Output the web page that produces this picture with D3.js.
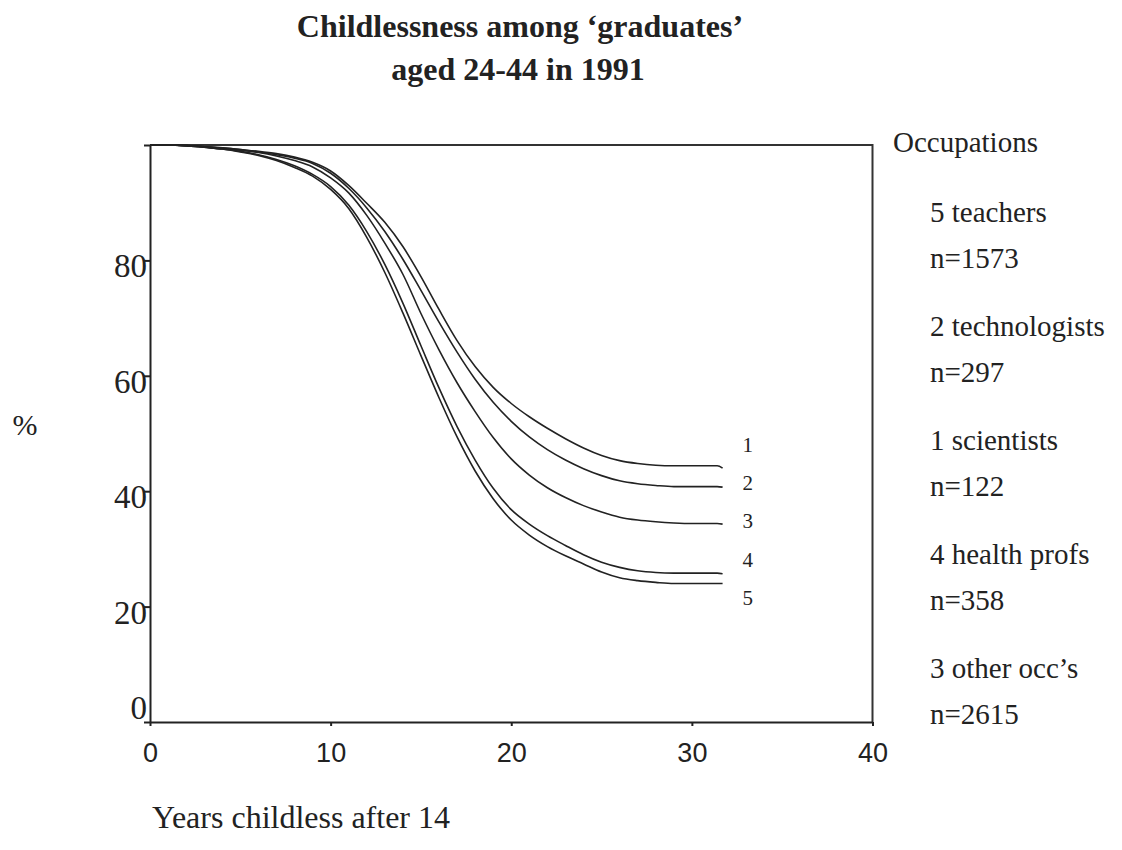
<!DOCTYPE html>
<html>
<head>
<meta charset="utf-8">
<script src="https://cdn.jsdelivr.net/npm/d3@7"></script>
<style>
  body { margin: 0; background: #fff; }
  svg { display: block; }
</style>
</head>
<body>
<svg id="chart" width="1122" height="850"></svg>
<script>
// Years since age 14 at which the survival estimates are read
const years = [0, 1, 2, 3, 4, 5, 6, 7, 8, 9, 10, 11, 12, 13, 14, 15, 16, 17, 18, 19,
  20, 21, 22, 23, 24, 25, 26, 27, 28, 29, 30, 31, 31.4, 31.7];

// Percentage still childless, by occupation group
const scientists = [100, 100, 99.9, 99.7, 99.5, 99.2, 98.9, 98.5, 97.9, 97.0, 95.5, 93.0, 89.9, 86.6, 82.4, 77.2, 71.5, 66.1, 61.6, 58.0,
  55.2, 52.9, 50.9, 49.1, 47.5, 46.2, 45.3, 44.8, 44.5, 44.4, 44.4, 44.4, 44.4, 44.0];
const technologists = [100, 100, 99.9, 99.7, 99.5, 99.2, 98.8, 98.3, 97.7, 96.8, 95.1, 92.5, 89.1, 85.0, 80.2, 74.8, 69.3, 64.1, 59.4, 55.4,
  52.1, 49.4, 47.2, 45.4, 43.9, 42.7, 41.8, 41.3, 41.0, 40.8, 40.8, 40.8, 40.8, 40.7];
const otherOccs = [100, 100, 99.9, 99.7, 99.4, 99.1, 98.7, 98.1, 97.3, 96.2, 94.3, 91.7, 87.8, 83.0, 77.6, 70.8, 64.5, 58.8, 53.8, 49.3,
  45.6, 42.8, 40.6, 38.9, 37.5, 36.4, 35.5, 35.0, 34.7, 34.5, 34.4, 34.4, 34.4, 34.3];
const healthProfs = [100, 100, 99.9, 99.6, 99.3, 98.9, 98.3, 97.5, 96.4, 94.9, 92.8, 89.6, 85.0, 79.3, 72.6, 65.2, 57.9, 51.2, 45.4, 40.5,
  36.8, 34.3, 32.3, 30.6, 29.0, 27.7, 26.8, 26.2, 25.9, 25.8, 25.8, 25.8, 25.8, 25.7];
const teachers = [100, 100, 99.9, 99.6, 99.3, 98.8, 98.2, 97.3, 96.1, 94.6, 92.3, 89.0, 84.0, 77.9, 70.9, 63.5, 56.2, 49.4, 43.5, 38.7,
  35.0, 32.4, 30.4, 28.8, 27.4, 26.0, 25.0, 24.5, 24.2, 24.0, 24.0, 24.0, 24.0, 24.0];

// Curve codes (order matches the labels at the right-hand end of the curves)
const curveCodes = ["1", "2", "3", "4", "5"];
const curveValues = [scientists, technologists, otherOccs, healthProfs, teachers];

// Axis ticks
const xTicks = [0, 10, 20, 30, 40];
const yTicks = [0, 20, 40, 60, 80, 100];
const yTickLabels = ["0", "20", "40", "60", "80", ""];

// Legend text
const legendTitle = "Occupations";
const legendNames = ["5 teachers", "2 technologists", "1 scientists", "4 health profs", "3 other occ\u2019s"];
const legendCounts = ["n=1573", "n=297", "n=122", "n=358", "n=2615"];

const SERIF = "'Liberation Serif', 'Times New Roman', serif";
const SANS = "'Liberation Sans', Arial, sans-serif";
const INK = "#222";

const svg = d3.select("#chart");
const plot = { left: 150, right: 872.5, top: 145, bottom: 722 };

const x = d3.scaleLinear().domain([0, 40]).range([plot.left, plot.right]);
const y = d3.scaleLinear().domain([0, 100]).range([plot.bottom, plot.top]);

// Title
const title = svg.append("g").attr("font-family", SERIF).attr("font-weight", "bold")
  .attr("font-size", 32).attr("text-anchor", "middle").attr("fill", INK);
title.append("text").attr("x", 520).attr("y", 37).text("Childlessness among \u2018graduates\u2019");
title.append("text").attr("x", 518).attr("y", 80).text("aged 24-44 in 1991");

// Frame: top and right edges
svg.append("path")
  .attr("d", `M${plot.left},${plot.top}H${plot.right}V${plot.bottom}`)
  .attr("fill", "none").attr("stroke", "#333").attr("stroke-width", 2);

// Y axis
const yAxis = svg.append("g")
  .attr("transform", `translate(${plot.left},0)`)
  .call(d3.axisLeft(y).tickValues(yTicks).tickSize(6).tickSizeOuter(0)
    .tickFormat((d, i) => yTickLabels[i]));
yAxis.select(".domain").attr("stroke", INK).attr("stroke-width", 2);
yAxis.selectAll(".tick line").attr("stroke", INK).attr("stroke-width", 2);
yAxis.selectAll(".tick text")
  .attr("font-family", SERIF).attr("font-size", 33).attr("fill", INK)
  .attr("x", -3)
  .attr("dy", d => d === 0 ? -4 : 16.5);

// X axis
const xAxis = svg.append("g")
  .attr("transform", `translate(0,${plot.bottom})`)
  .call(d3.axisBottom(x).tickValues(xTicks).tickSize(4).tickSizeOuter(0));
xAxis.select(".domain").attr("stroke", INK).attr("stroke-width", 2);
xAxis.selectAll(".tick line").attr("stroke", INK).attr("stroke-width", 2);
xAxis.selectAll(".tick text")
  .attr("font-family", SANS).attr("font-size", 27).attr("fill", INK)
  .attr("y", 40).attr("dy", 0);

// Survival curves
const line = d3.line()
  .x((d, i) => x(years[i]))
  .y(d => y(d))
  .curve(d3.curveMonotoneX);

svg.append("g")
  .selectAll("path")
  .data(curveValues)
  .join("path")
  .attr("d", d => line(d))
  .attr("fill", "none")
  .attr("stroke", INK)
  .attr("stroke-width", 1.6)
  .attr("stroke-linejoin", "round");

// Curve codes beside the curve ends
const codeLevels = [46.8, 40.2, 33.6, 26.9, 20.3];
svg.append("g")
  .attr("font-family", SERIF).attr("font-size", 21).attr("fill", INK).attr("text-anchor", "middle")
  .selectAll("text")
  .data(curveCodes)
  .join("text")
  .attr("x", x(33.1))
  .attr("y", (d, i) => y(codeLevels[i]))
  .text(d => d);

// Axis titles
svg.append("text")
  .attr("x", 25).attr("y", 435).attr("text-anchor", "middle")
  .attr("font-family", SERIF).attr("font-size", 30).attr("fill", INK)
  .text("%");
svg.append("text")
  .attr("x", 152).attr("y", 828)
  .attr("font-family", SERIF).attr("font-size", 32).attr("fill", INK)
  .text("Years childless after 14");

// Legend
const legend = svg.append("g").attr("font-family", SERIF).attr("font-size", 29).attr("fill", INK);
legend.append("text").attr("x", 893).attr("y", 152).text(legendTitle);
legendNames.forEach((name, i) => {
  legend.append("text").attr("x", 930).attr("y", 222 + i * 114).text(name);
  legend.append("text").attr("x", 930).attr("y", 268 + i * 114).text(legendCounts[i]);
});
</script>
</body>
</html>
